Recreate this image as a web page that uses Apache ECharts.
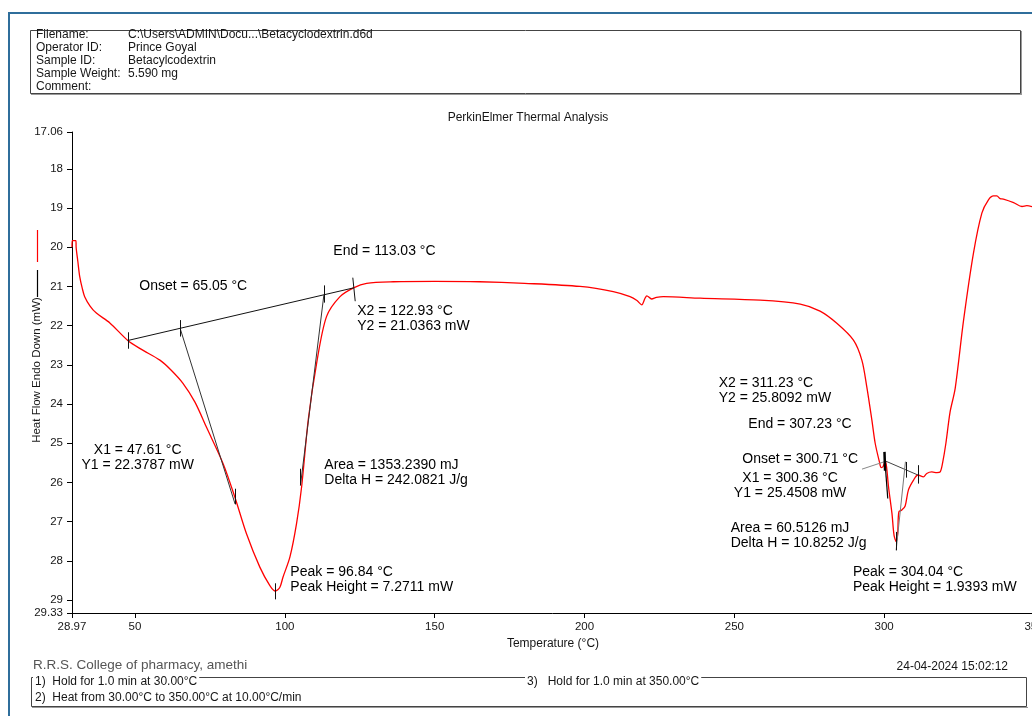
<!DOCTYPE html>
<html>
<head>
<meta charset="utf-8">
<script src="https://cdn.jsdelivr.net/npm/echarts@6/dist/echarts.min.js"></script>
<style>
  html, body { margin: 0; padding: 0; background: #ffffff; }
  #chart { width: 1032px; height: 716px; }
</style>
</head>
<body>
<div id="chart"></div>
<script>
// DSC heating scan of beta-cyclodextrin: temperature (°C) and heat flow (mW, endo down)
const temperature = [
  28.97, 29.0, 30.3, 30.35, 30.9, 31.55, 32.4, 33.2, 35.0, 37.1, 41.6, 47.61, 52.0, 58.3, 62.0, 66.0,
  70.0, 73.9, 79.4, 83.3, 87.2, 91.65, 95.0, 96.84, 98.3, 99.4, 101.7, 103.9, 105.6, 107.8, 110.6,
  113.9, 118.4, 122.93, 127.3, 136.2, 150.0, 165.0, 180.0, 198.5, 209.6, 215.2, 217.5, 219.1, 220.2,
  220.8, 222.4, 224.0, 226.3, 238.6, 258.6, 272.0, 278.6, 284.2, 289.75, 292.55, 294.2, 295.9, 297.0,
  298.4, 299.0, 299.6, 300.36, 300.8, 301.45, 302.6, 303.3, 304.04, 304.5, 304.9, 305.9, 307.0, 308.1,
  309.8, 311.23, 313.1, 314.2, 315.9, 317.6, 318.7, 319.5, 320.6, 322.0, 323.7, 326.5, 329.8, 332.6,
  334.8, 336.5, 337.6, 338.7, 339.8, 343.2, 346.0, 347.6, 350.0
];
const heatFlow = [
  20.0, 19.83, 19.83, 20.0, 20.35, 20.75, 21.05, 21.26, 21.5, 21.68, 21.93, 22.3787, 22.6, 22.88, 23.13, 23.47,
  23.95, 24.6, 25.52, 26.37, 27.31, 28.16, 28.63, 28.77, 28.68, 28.41, 27.9, 27.05, 26.11, 24.41, 22.96,
  21.77, 21.26, 21.0363, 20.92, 20.88, 20.87, 20.88, 20.92, 21.0, 21.13, 21.26, 21.36, 21.47, 21.3,
  21.24, 21.32, 21.28, 21.26, 21.3, 21.35, 21.45, 21.63, 21.94, 22.37, 22.88, 23.56, 24.41, 25.0,
  25.47, 25.62, 25.6, 25.4508, 25.6, 26.11, 26.79, 27.35, 27.51, 27.3, 26.75, 26.7, 26.6, 26.19,
  25.94, 25.8092, 25.86, 25.77, 25.73, 25.75, 25.73, 25.5, 25.0, 24.2, 23.6, 21.86, 20.15, 19.13,
  18.79, 18.69, 18.69, 18.76, 18.77, 18.86, 18.96, 18.94, 18.98
];

// axis ticks
const xTicks = [28.97, 50, 100, 150, 200, 250, 300, 350];
const yTicks = [17.06, 18, 19, 20, 21, 22, 23, 24, 25, 26, 27, 28, 29, 29.33];

// first endotherm (dehydration): X1, X2 limits and their heat flow
const peak1Limits = [47.61, 122.93];
const peak1LimitFlows = [22.3787, 21.0363];
const peak1Temps = [65.05, 113.03, 96.84];          // onset, end, peak (°C)
const peak1Energy = [1353.2390, 242.0821, 7.2711];  // area (mJ), delta H (J/g), peak height (mW)

// second endotherm (melting / decomposition onset)
const peak2Limits = [300.36, 311.23];
const peak2LimitFlows = [25.4508, 25.8092];
const peak2Temps = [300.71, 307.23, 304.04];
const peak2Energy = [60.5126, 10.8252, 1.9393];

// header and footer text
const headerLabels = ['Filename:', 'Operator ID:', 'Sample ID:', 'Sample Weight:', 'Comment:'];
const headerValues = ['C:\\Users\\ADMIN\\Docu...\\Betacyclodextrin.d6d', 'Prince Goyal', 'Betacylcodextrin', '5.590 mg', ''];
const methodSteps = ['1)  Hold for 1.0 min at 30.00°C', '2)  Heat from 30.00°C to 350.00°C at 10.00°C/min', '3)   Hold for 1.0 min at 350.00°C'];

const FONT = '"Liberation Sans", Arial, sans-serif';
const INK = '#161616';

function baselineAt(t, xs, ys) {
  return ys[0] + (t - xs[0]) * (ys[1] - ys[0]) / (xs[1] - xs[0]);
}
function vtick(t, y, up, down) {
  return [[t, y - up], [t, y + down]];
}
function seg(coords, color, width) {
  return { coords: coords, lineStyle: { color: color, width: width } };
}

const curve = temperature.map((t, i) => [t, heatFlow[i]]);

const p1OnsetY = baselineAt(peak1Temps[0], peak1Limits, peak1LimitFlows);
const p1EndY = baselineAt(peak1Temps[1], peak1Limits, peak1LimitFlows);
const p1PeakY = baselineAt(peak1Temps[2], peak1Limits, peak1LimitFlows) + peak1Energy[2];
const p2EndY = baselineAt(peak2Temps[1], peak2Limits, peak2LimitFlows);
const p2PeakY = baselineAt(peak2Temps[2], peak2Limits, peak2LimitFlows) + peak2Energy[2];

// analysis construction lines (baselines, tangents, markers)
const constructionLines = [
  seg([[peak1Limits[0], peak1LimitFlows[0]], [peak1Limits[1], peak1LimitFlows[1]]], '#111', 1),
  seg([[peak1Temps[0], p1OnsetY], [83.4, 26.55]], '#333', 1),
  seg([[peak1Temps[1], p1EndY], [105.2, 26.08]], '#333', 1),
  seg(vtick(peak1Limits[0], peak1LimitFlows[0], 0.21, 0.21), '#111', 1),
  seg(vtick(peak1Temps[0], p1OnsetY, 0.21, 0.21), '#111', 1),
  seg(vtick(peak1Temps[1], p1EndY, 0.24, 0.2), '#111', 1),
  seg([[peak1Limits[1] - 0.25, peak1LimitFlows[1] - 0.26], [peak1Limits[1] + 0.55, peak1LimitFlows[1] + 0.34]], '#111', 1),
  seg(vtick(83.35, 26.36, 0.2, 0.2), '#111', 1),
  seg(vtick(105.2, 25.86, 0.21, 0.21), '#111', 1),
  seg(vtick(peak1Temps[2], p1PeakY, 0.2, 0.21), '#111', 1),

  seg([[peak2Limits[0], peak2LimitFlows[0]], [peak2Limits[1], peak2LimitFlows[1]]], '#444', 1),
  seg([[292.6, 25.66], [300.1, 25.47]], '#888', 1),
  seg([[300.1, 25.22], [300.3, 25.7]], '#000', 2.5),
  seg([[300.3, 25.5], [301.2, 26.41]], '#000', 1.2),
  seg([[307.1, 25.47], [304.0, 27.73]], '#777', 1),
  seg(vtick(peak2Temps[1], p2EndY, 0.2, 0.2), '#111', 1),
  seg(vtick(peak2Limits[1], peak2LimitFlows[1], 0.25, 0.22), '#111', 1),
  seg(vtick(peak2Temps[2], p2PeakY, 0.25, 0.22), '#111', 1)
];

const f2 = v => v.toFixed(2);
const f4 = v => v.toFixed(4);

// result annotations anchored in data space
function note(t, y, text, pos) {
  return { value: [t, y], label: { formatter: text, position: pos || 'right', distance: 0 } };
}
const notes = [
  note(51.25, 20.99, 'Onset = ' + f2(peak1Temps[0]) + ' °C'),
  note(116.0, 20.09, 'End = ' + f2(peak1Temps[1]) + ' °C'),
  note(124.0, 21.82, 'X2 = ' + f2(peak1Limits[1]) + ' °C\nY2 = ' + f4(peak1LimitFlows[1]) + ' mW'),
  note(50.9, 25.37, 'X1 = ' + f2(peak1Limits[0]) + ' °C\nY1 = ' + f4(peak1LimitFlows[0]) + ' mW', 'inside'),
  note(113.0, 25.74, 'Area = ' + f4(peak1Energy[0]) + ' mJ\nDelta H = ' + f4(peak1Energy[1]) + ' J/g'),
  note(101.67, 28.47, 'Peak = ' + f2(peak1Temps[2]) + ' °C\nPeak Height = ' + f4(peak1Energy[2]) + ' mW'),
  note(244.6, 23.66, 'X2 = ' + f2(peak2Limits[1]) + ' °C\nY2 = ' + f4(peak2LimitFlows[1]) + ' mW'),
  note(254.5, 24.5, 'End = ' + f2(peak2Temps[1]) + ' °C'),
  note(252.5, 25.41, 'Onset = ' + f2(peak2Temps[0]) + ' °C'),
  note(268.6, 26.07, 'X1 = ' + f2(peak2Limits[0]) + ' °C\nY1 = ' + f4(peak2LimitFlows[0]) + ' mW', 'inside'),
  note(248.6, 27.35, 'Area = ' + f4(peak2Energy[0]) + ' mJ\nDelta H = ' + f4(peak2Energy[1]) + ' J/g'),
  note(289.4, 28.47, 'Peak = ' + f2(peak2Temps[2]) + ' °C\nPeak Height = ' + f4(peak2Energy[2]) + ' mW')
];

// page furniture: frame, header block, footer block
const graphics = [
  { type: 'line', shape: { x1: 9, y1: 13, x2: 1032, y2: 13 }, style: { stroke: '#2f6e9b', lineWidth: 2 } },
  { type: 'line', shape: { x1: 9, y1: 12, x2: 9, y2: 716 }, style: { stroke: '#2f6e9b', lineWidth: 2 } },
  { type: 'rect', shape: { x: 30.5, y: 30.5, width: 990, height: 63 }, style: { fill: null, stroke: '#444', lineWidth: 1 } },
  { type: 'line', shape: { x1: 31, y1: 94.5, x2: 1022, y2: 94.5 }, style: { stroke: '#999', lineWidth: 1.2 } },
  { type: 'line', shape: { x1: 1021.5, y1: 31, x2: 1021.5, y2: 95 }, style: { stroke: '#999', lineWidth: 1 } },
  { type: 'text', x: 528, y: 118, style: { text: 'PerkinElmer Thermal Analysis', font: '12px ' + FONT, fill: INK, textAlign: 'center', textVerticalAlign: 'middle' } },
  { type: 'text', x: 37, y: 370, rotation: Math.PI / 2, style: { text: 'Heat Flow Endo Down (mW)', font: '11.5px ' + FONT, fill: INK, textAlign: 'center', textVerticalAlign: 'middle' } },
  { type: 'line', shape: { x1: 37.5, y1: 230, x2: 37.5, y2: 262 }, style: { stroke: '#ff0000', lineWidth: 1.2 } },
  { type: 'line', shape: { x1: 37.5, y1: 270, x2: 37.5, y2: 297 }, style: { stroke: '#000', lineWidth: 1.2 } },
  { type: 'text', x: 33, y: 665, style: { text: 'R.R.S. College of pharmacy, amethi', font: '13.5px ' + FONT, fill: '#555', textVerticalAlign: 'middle' } },
  { type: 'text', x: 1008, y: 667, style: { text: '24-04-2024 15:02:12', font: '12px ' + FONT, fill: INK, textAlign: 'right', textVerticalAlign: 'middle' } },
  { type: 'rect', shape: { x: 31.5, y: 677.5, width: 995, height: 29 }, style: { fill: null, stroke: '#444', lineWidth: 1 } },
  { type: 'line', shape: { x1: 32, y1: 707.5, x2: 1028, y2: 707.5 }, style: { stroke: '#999', lineWidth: 1 } }
];
headerLabels.forEach((s, i) => {
  graphics.push({ type: 'text', x: 36, y: 35 + i * 13, style: { text: s, font: '12px ' + FONT, fill: INK, textVerticalAlign: 'middle' } });
  graphics.push({ type: 'text', x: 128, y: 35 + i * 13, style: { text: headerValues[i], font: '12px ' + FONT, fill: INK, textVerticalAlign: 'middle' } });
});
[[33, 682], [33, 698], [525, 682]].forEach((p, i) => {
  graphics.push({ type: 'text', x: p[0], y: p[1], style: { text: methodSteps[i], font: '12px ' + FONT, fill: INK, textVerticalAlign: 'middle', backgroundColor: '#fff', padding: [0, 2, 0, 2] } });
});

const chart = echarts.init(document.getElementById('chart'), null, { renderer: 'canvas' });
chart.setOption({
  animation: false,
  backgroundColor: '#ffffff',
  textStyle: { fontFamily: FONT },
  grid: { left: 72, top: 132, right: -2, bottom: 103, outerBoundsMode: 'none', containLabel: false },
  xAxis: {
    type: 'value', min: 28.97, max: 350,
    name: 'Temperature (°C)', nameLocation: 'middle', nameGap: 19,
    nameTextStyle: { color: INK, fontSize: 12, fontFamily: FONT },
    axisLine: { lineStyle: { color: '#000', width: 1 } },
    axisTick: { show: true, length: 5, customValues: xTicks, lineStyle: { color: '#000' } },
    axisLabel: { customValues: xTicks, color: INK, fontSize: 11.5, margin: 8, fontFamily: FONT, formatter: v => String(v) },
    splitLine: { show: false }
  },
  yAxis: {
    type: 'value', min: 17.06, max: 29.33, inverse: true,
    axisLine: { show: true, lineStyle: { color: '#000', width: 1 } },
    axisTick: { show: true, length: 5, customValues: yTicks, lineStyle: { color: '#000' } },
    axisLabel: { customValues: yTicks, color: INK, fontSize: 11.5, margin: 9, fontFamily: FONT, formatter: v => String(v) },
    splitLine: { show: false }
  },
  series: [
    {
      type: 'line', data: curve, showSymbol: false, smooth: 0.3, z: 2,
      lineStyle: { color: '#ff0000', width: 1.3 }, silent: true
    },
    {
      type: 'lines', coordinateSystem: 'cartesian2d', data: constructionLines, z: 3, silent: true,
      lineStyle: { opacity: 1 }
    },
    {
      type: 'scatter', data: notes, symbolSize: 1, z: 4, silent: true,
      itemStyle: { color: 'rgba(0,0,0,0)' },
      label: { show: true, color: '#000', opacity: 1, fontSize: 14, lineHeight: 15, fontFamily: FONT }
    }
  ],
  graphic: graphics
});
</script>
</body>
</html>
